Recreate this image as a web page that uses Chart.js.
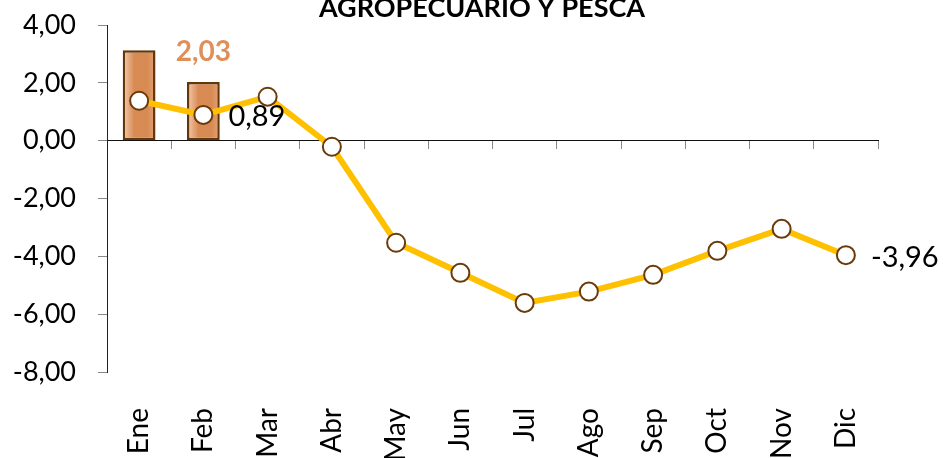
<!DOCTYPE html>
<html>
<head>
<meta charset="utf-8">
<script src="https://cdn.jsdelivr.net/npm/chart.js@4.4.1/dist/chart.umd.min.js"></script>
<style>
html,body{margin:0;padding:0;background:#fff;}
#wrap{width:943px;height:458px;position:relative;}
</style>
</head>
<body>
<div id="wrap"><canvas id="c" width="943" height="458"></canvas></div>
<script>
const chartTitle = "AGROPECUARIO Y PESCA";
const categories = ["Ene","Feb","Mar","Abr","May","Jun","Jul","Ago","Sep","Oct","Nov","Dic"];
const barValues = [3.13, 2.03, null, null, null, null, null, null, null, null, null, null];
const lineValues = [1.38, 0.89, 1.52, -0.21, -3.53, -4.57, -5.61, -5.22, -4.64, -3.81, -3.05, -3.96];
const yTicks = [-8, -6, -4, -2, 0, 2, 4];
const barLabelIndex = [1];
const lineLabelIndex = [1, 11];

const fmt = v => v.toFixed(2).replace('.', ',');
const FONT = "Lato, 'Open Sans', sans-serif";
const BAR_PCT = 0.51;

function barFill(c) {
  const chart = c.chart;
  const xs = chart.scales && chart.scales.x;
  if (!chart.chartArea || !xs || c.dataIndex == null) return '#D98A52';
  const x = xs.getPixelForValue(c.dataIndex);
  const w = (xs.width / categories.length) * BAR_PCT;
  const g = chart.ctx.createLinearGradient(x - w / 2, 0, x + w / 2, 0);
  g.addColorStop(0, '#F2CDB2');
  g.addColorStop(0.35, '#D98B54');
  g.addColorStop(0.75, '#D88A53');
  g.addColorStop(1, '#E2A37A');
  return g;
}

const labelPlugin = {
  id: 'labels',
  afterDatasetsDraw(chart) {
    const ctx = chart.ctx;
    ctx.save();
    const bm = chart.getDatasetMeta(0);
    barLabelIndex.forEach(i => {
      const el = bm.data[i];
      ctx.font = "bold 28px " + FONT;
      ctx.fillStyle = '#DF8F5A';
      ctx.textAlign = 'center';
      ctx.textBaseline = 'middle';
      ctx.fillText(fmt(barValues[i]), el.x, el.y - 30);
    });
    const lm = chart.getDatasetMeta(1);
    lineLabelIndex.forEach(i => {
      const el = lm.data[i];
      ctx.font = "29px " + FONT;
      ctx.fillStyle = '#000';
      ctx.textAlign = 'left';
      ctx.textBaseline = 'middle';
      ctx.fillText(fmt(lineValues[i]), el.x + 25, el.y + 2);
    });
    ctx.font = "bold 27px " + FONT;
    ctx.fillStyle = '#000';
    ctx.textAlign = 'center';
    ctx.textBaseline = 'alphabetic';
    ctx.fillText(chartTitle, 482, 17);
    ctx.restore();
  }
};

function zeroPad(s) { s.paddingTop = 0; s.paddingBottom = 0; }

new Chart(document.getElementById('c'), {
  type: 'bar',
  data: {
    labels: categories,
    datasets: [
      {
        type: 'bar',
        data: barValues,
        order: 2,
        borderColor: '#643608',
        borderWidth: 2.5,
        borderSkipped: false,
        barPercentage: BAR_PCT,
        categoryPercentage: 1.0,
        backgroundColor: barFill
      },
      {
        type: 'line',
        data: lineValues,
        order: 1,
        borderColor: '#FFC000',
        borderWidth: 6,
        tension: 0,
        pointRadius: 9,
        pointHoverRadius: 9,
        pointBackgroundColor: '#FFFFFF',
        pointBorderColor: '#6B3A0A',
        pointBorderWidth: 2
      }
    ]
  },
  plugins: [labelPlugin],
  options: {
    responsive: false,
    animation: false,
    events: [],
    layout: { padding: { top: 25, right: 65, bottom: 0, left: 0 } },
    plugins: { legend: { display: false }, tooltip: { enabled: false }, title: { display: false } },
    scales: {
      x: {
        type: 'category',
        offset: true,
        grid: { display: false },
        border: { display: false },
        ticks: {
          color: '#000',
          font: { family: FONT, size: 28 },
          minRotation: 90,
          maxRotation: 90,
          autoSkip: false,
          padding: 28
        },
        afterFit(s) { s.height = 86; zeroPad(s); }
      },
      x2: {
        type: 'category',
        position: { y: 0 },
        offset: true,
        grid: { display: true, drawOnChartArea: false, drawTicks: true, tickLength: 8, offset: true, color: '#888' },
        border: { display: true, color: '#111', width: 1 },
        ticks: { display: false },
        afterFit(s) { zeroPad(s); }
      },
      y: {
        min: -8,
        max: 4,
        afterBuildTicks(s) { s.ticks = yTicks.map(v => ({ value: v })); },
        grid: { drawOnChartArea: false, drawTicks: true, tickLength: 9, color: '#888' },
        border: { display: true, color: '#222', width: 1 },
        ticks: {
          color: '#000',
          font: { family: FONT, size: 27 },
          padding: 22,
          callback: v => fmt(v)
        },
        afterFit(s) { s.width = 107; zeroPad(s); }
      }
    }
  }
});
</script>
</body>
</html>
